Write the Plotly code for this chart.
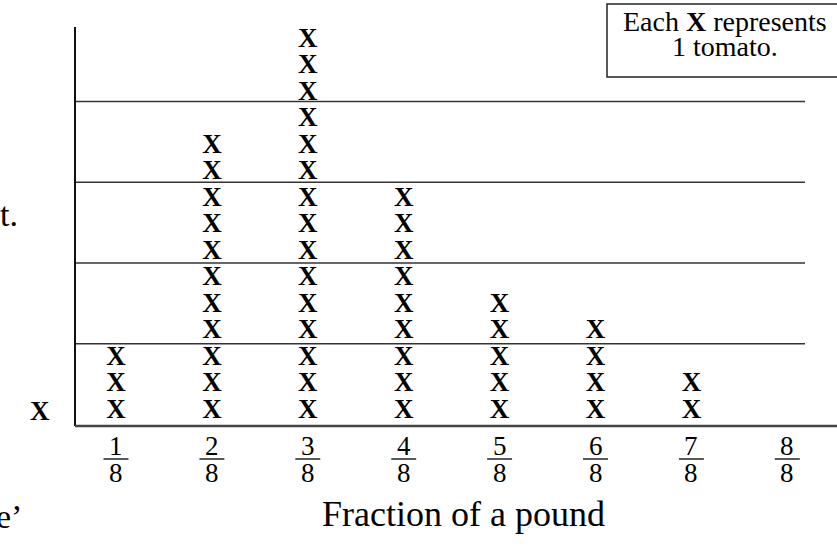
import plotly.graph_objects as go

# ---- data ----
numerators = [1, 2, 3, 4, 5, 6, 7, 8]
denominator = 8
counts = [3, 11, 15, 9, 5, 4, 2, 0]
x_title = "Fraction of a pound"
key_line1 = "Each <b>X</b> represents"
key_line2 = "1 tomato."

# ---- layout constants (window pixels of the 837x547 page) ----
W, H = 837, 547
PX_X0, PX_DX = 116.0, 95.9     # pixel of category 1, pixels per category
PX_Y0, PX_DY = 426.0, 26.5     # pixel of axis baseline, pixels per X row
ROW_OFF = 0.566                # centre of first X above the baseline (rows)

def dx(px):
    return 1 + (px - PX_X0) / PX_DX

def dy(py):
    return (PX_Y0 - py) / PX_DY

def paper(px, py):
    return px / W, 1 - py / H

SERIF = "Liberation Serif, Times New Roman, serif"

fig = go.Figure()

# X marks
xs, ys = [], []
for v, c in zip(numerators, counts):
    for k in range(c):
        xs.append(v)
        ys.append(ROW_OFF + k)
fig.add_trace(go.Scatter(
    x=xs, y=ys, mode="text", text=["<b>X</b>"] * len(xs),
    textposition="middle center",
    textfont=dict(family=SERIF, size=27, color="black"),
    hoverinfo="skip", showlegend=False, cliponaxis=False))

# fraction bars
bx, by = [], []
for v in numerators:
    bx += [v - 0.13, v + 0.13, None]
    by += [dy(459), dy(459), None]
fig.add_trace(go.Scatter(x=bx, y=by, mode="lines",
                         line=dict(color="#222", width=1.5),
                         hoverinfo="skip", showlegend=False))

ann = []
for v in numerators:
    ann.append(dict(x=v, y=dy(446), xref="x", yref="y", text=str(v),
                    showarrow=False, xanchor="center", yanchor="middle",
                    font=dict(family=SERIF, size=27, color="black")))
    ann.append(dict(x=v, y=dy(473), xref="x", yref="y", text=str(denominator),
                    showarrow=False, xanchor="center", yanchor="middle",
                    font=dict(family=SERIF, size=27, color="black")))

def pann(px, py, text, size, xanchor="center"):
    x, y = paper(px, py)
    ann.append(dict(x=x, y=y, xref="paper", yref="paper", text=text,
                    showarrow=False, xanchor=xanchor, yanchor="middle",
                    font=dict(family=SERIF, size=size, color="black")))

pann(463, 514, x_title, 36)
pann(725, 22, key_line1, 28)
pann(725, 47, key_line2, 28)
pann(20, 214, "t.", 34, xanchor="right")
pann(24, 516, "e’", 34, xanchor="right")
pann(40, 411, "<b>X</b>", 27)

shapes = []
# vertical axis
shapes.append(dict(type="line", xref="x", yref="y", x0=dx(75), x1=dx(75),
                   y0=0, y1=dy(27), line=dict(color="#111", width=2)))
# bottom axis
shapes.append(dict(type="line", xref="x", yref="y", x0=dx(75), x1=dx(840),
                   y0=0, y1=0, line=dict(color="#444", width=2.5)))
# horizontal guide lines every three rows
for j in range(1, 5):
    yy = 0.05 + 3.05 * j
    shapes.append(dict(type="line", xref="x", yref="y", x0=dx(76), x1=dx(805),
                       y0=yy, y1=yy, line=dict(color="#333", width=1.5)))
# key box
kx0, ky0 = paper(607, 4)
kx1, ky1 = paper(845, 77)
shapes.append(dict(type="rect", xref="paper", yref="paper", x0=kx0, x1=kx1,
                   y0=ky1, y1=ky0, line=dict(color="#222", width=1.5),
                   fillcolor="rgba(0,0,0,0)"))

fig.update_layout(
    width=W, height=H, margin=dict(l=0, r=0, t=0, b=0),
    paper_bgcolor="white", plot_bgcolor="white",
    xaxis=dict(range=[dx(0), dx(W)], visible=False, domain=[0, 1]),
    yaxis=dict(range=[dy(H), dy(0)], visible=False, domain=[0, 1]),
    annotations=ann, shapes=shapes, showlegend=False)

fig.write_html("out.html",
               config={"displayModeBar": False, "staticPlot": True},
               post_script="document.body.style.margin='0';"
                           "document.body.style.overflow='hidden';")
